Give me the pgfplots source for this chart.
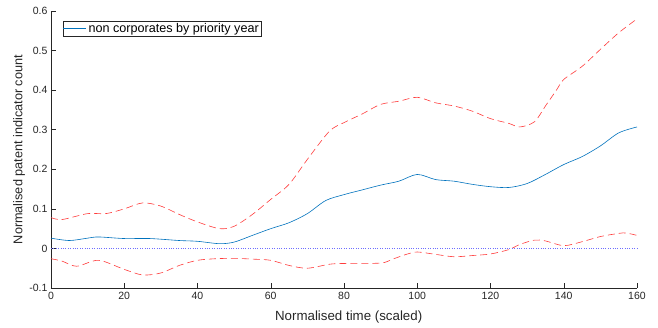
\documentclass[border=0pt]{standalone}
\usepackage{fontspec}
\setmainfont{Liberation Sans}
\usepackage{pgfplots}
\pgfplotsset{compat=1.18}
\definecolor{axgray}{RGB}{38,38,38}
\definecolor{mblue}{RGB}{0,114,189}
\definecolor{mred}{RGB}{255,60,60}
\definecolor{mdot}{RGB}{110,110,255}
\begin{document}
\begin{tikzpicture}
\begin{axis}[
  scale only axis, width=586pt, height=277pt,
  xmin=0, xmax=160, ymin=-0.1, ymax=0.6,
  axis x line*=bottom, axis y line*=left,
  axis line style={axgray, line width=0.5pt},
  tick align=inside, major tick length=5pt,
  tick style={axgray, line width=0.5pt},
  xtick={0,20,...,160},
  ytick={-0.1,0,0.1,0.2,0.3,0.4,0.5,0.6},
  yticklabels={-0.1,0,0.1,0.2,0.3,0.4,0.5,0.6},
  /pgf/number format/assume math mode=true,
  ticklabel style={font=\fontsize{10.5}{12}\selectfont, text=axgray},
  yticklabel style={xshift=0pt},
  xticklabel style={yshift=-1pt},
  xlabel={Normalised time (scaled)},
  ylabel={Normalised patent indicator count},
  every axis x label/.style={at={(rel axis cs:0.508,-0.1047)}, anchor=center, font=\fontsize{13.3}{15}\selectfont, text=axgray},
  every axis y label/.style={at={(rel axis cs:-0.0546,0.5)}, rotate=90, anchor=center, font=\fontsize{12.7}{15}\selectfont, text=axgray},
  legend style={at={(rel axis cs:0.02,0.965)}, anchor=north west, draw=axgray, line width=0.5pt, font=\fontsize{12.6}{14}\selectfont, inner sep=0pt, nodes={inner xsep=2pt, inner ysep=2.3pt}},
  legend image code/.code={\draw[#1] (0pt,0pt) -- (23pt,0pt);},
  legend cell align=left,
  clip=false,
]
\addplot[mblue, line width=0.6pt, smooth, tension=0.5] coordinates {
(0,0.026) (5,0.020) (10,0.026) (13,0.029) (20,0.025) (27,0.025) (35,0.020) (40,0.018) (46,0.012) (50,0.016) (55,0.033) (60,0.050) (65,0.065) (70,0.088) (75,0.121) (80,0.136) (85,0.148) (90,0.160) (95,0.170) (100,0.187) (105,0.174) (110,0.170) (115,0.162) (120,0.156) (125,0.154) (130,0.164) (135,0.187) (140,0.212) (145,0.232) (150,0.259) (155,0.292) (160,0.307)
};
\addlegendentry{non corporates by priority year}
\addplot[mred, line width=0.6pt, dash pattern=on 7pt off 4pt, smooth, tension=0.5, forget plot] coordinates {
(0,0.078) (3,0.073) (10,0.088) (15,0.088) (20,0.100) (25,0.115) (30,0.107) (35,0.086) (40,0.067) (46,0.050) (50,0.056) (55,0.086) (60,0.124) (65,0.162) (70,0.225) (76,0.296) (80,0.318) (85,0.340) (90,0.364) (95,0.372) (100,0.382) (105,0.368) (110,0.360) (115,0.347) (120,0.328) (125,0.316) (128,0.307) (132,0.320) (135,0.360) (138,0.400) (140,0.427) (145,0.460) (150,0.503) (155,0.545) (160,0.580)
};
\addplot[mred, line width=0.6pt, dash pattern=on 7pt off 4pt, smooth, tension=0.5, forget plot] coordinates {
(0,-0.026) (3,-0.032) (7,-0.045) (13,-0.030) (20,-0.053) (25,-0.067) (30,-0.062) (35,-0.043) (40,-0.030) (45,-0.026) (50,-0.025) (55,-0.027) (60,-0.030) (65,-0.043) (70,-0.050) (76,-0.040) (80,-0.038) (90,-0.037) (93,-0.028) (97,-0.015) (100,-0.009) (105,-0.015) (110,-0.021) (115,-0.018) (120,-0.014) (125,-0.003) (128,0.010) (132,0.021) (135,0.019) (140,0.007) (145,0.017) (150,0.030) (155,0.038) (157,0.039) (160,0.033)
};
\addplot[mdot, line width=0.6pt, dash pattern=on 0.8pt off 1.6pt, forget plot] coordinates {(0,0) (160,0)};
\end{axis}
\pgfresetboundingbox
\useasboundingbox (-51pt,-39pt) rectangle (607pt,288pt);
\end{tikzpicture}
\end{document}
